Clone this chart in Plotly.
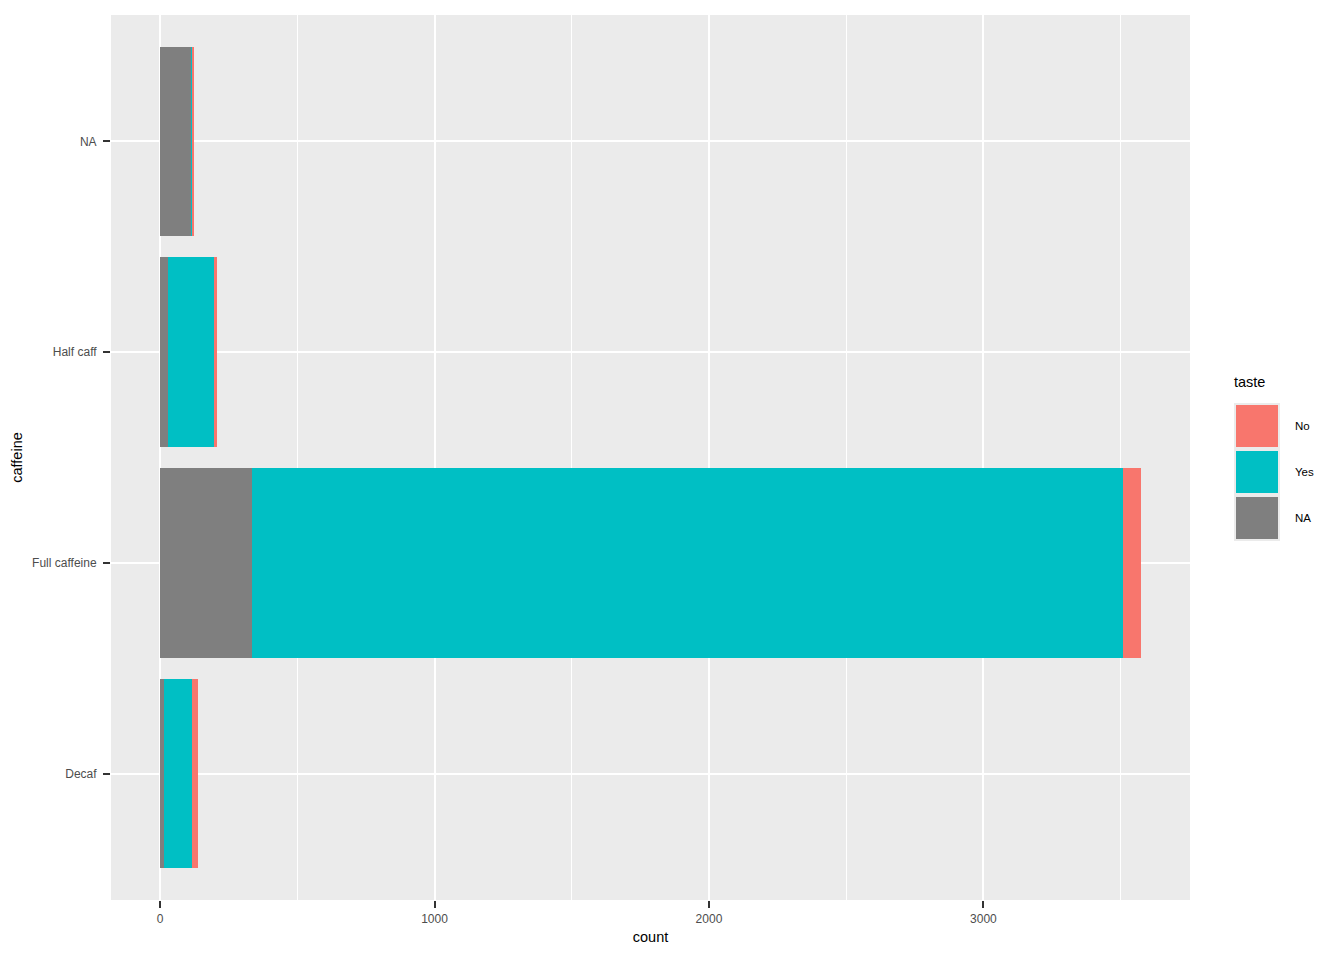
import plotly.graph_objects as go

# --------------------------------------------------
# Data: counts per caffeine level, split by taste
# --------------------------------------------------
caffeine = ["Decaf", "Full caffeine", "Half caff", "NA"]
taste_na = [15, 335, 28, 113]
taste_yes = [100, 3173, 172, 7]
taste_no = [24, 66, 7, 5]

legend_labels = ["No", "Yes", "NA"]
colors = {"No": "#F8766D", "Yes": "#00BFC4", "NA": "#7F7F7F"}

# page body has an 8px margin, so the figure is shifted by that
OFF = 8
W, H = 1344, 960
L, R, T, B = 111 - OFF, 1344 - 1190 + OFF, 15 - OFF, 960 - 900 + OFF

fig = go.Figure()

# stacked left -> right: NA, Yes, No (ggplot order)
for name, vals in [("NA", taste_na), ("Yes", taste_yes), ("No", taste_no)]:
    fig.add_trace(go.Bar(
        y=caffeine, x=vals, orientation="h", name=name,
        marker=dict(color=colors[name], line=dict(width=0)),
        width=0.9, showlegend=False,
    ))

total = max(a + b + c for a, b, c in zip(taste_na, taste_yes, taste_no))
pad = total * 0.05

tick_style = dict(ticks="outside", ticklen=7, tickwidth=2, tickcolor="#333333",
                  tickfont=dict(size=12, color="#4D4D4D"))

fig.update_layout(
    width=W, height=H,
    margin=dict(l=L, r=R, t=T, b=B),
    barmode="stack",
    bargap=0.1,
    plot_bgcolor="#EBEBEB",
    paper_bgcolor="white",
    font=dict(family="Liberation Sans, Arial", color="#4D4D4D"),
    xaxis=dict(
        range=[-pad, total + pad],
        tickvals=[0, 1000, 2000, 3000],
        showgrid=True, gridcolor="white", gridwidth=2.2,
        zeroline=False,
        minor=dict(tickvals=[500, 1500, 2500, 3500], showgrid=True,
                   gridcolor="white", gridwidth=1.1, ticks=""),
        title=dict(text="count", font=dict(size=14.5, color="black"), standoff=6),
        showline=False,
        ticklabelstandoff=1,
        **tick_style,
    ),
    yaxis=dict(
        type="category",
        categoryorder="array", categoryarray=caffeine,
        range=[-0.6, len(caffeine) - 0.4],
        showgrid=True, gridcolor="white", gridwidth=2.2,
        title=dict(text="caffeine", font=dict(size=14.5, color="black"), standoff=6),
        showline=False,
        ticklabelstandoff=4,
        **tick_style,
    ),
)

# --------------------------------------------------
# Hand-drawn ggplot-style legend (screen px -> paper)
# --------------------------------------------------
pw, ph = W - L - R, H - T - B


def px_x(x):
    return (x - OFF - L) / pw


def px_y(y):
    return (H - B - (y - OFF)) / ph


fig.add_annotation(x=px_x(1234), y=px_y(382), xref="paper", yref="paper",
                   text="taste", showarrow=False, xanchor="left", yanchor="middle",
                   xshift=-2, font=dict(size=14.5, color="black"))
fig.add_shape(type="rect", xref="paper", yref="paper",
              x0=px_x(1234), x1=px_x(1280), y0=px_y(403), y1=px_y(541),
              fillcolor="#EBEBEB", line=dict(width=0), layer="below")
for i, lab in enumerate(legend_labels):
    top = 405 + i * 46
    fig.add_shape(type="rect", xref="paper", yref="paper",
                  x0=px_x(1236), x1=px_x(1278), y0=px_y(top), y1=px_y(top + 42),
                  fillcolor=colors[lab], line=dict(width=0))
    fig.add_annotation(x=px_x(1295), y=px_y(top + 21), xref="paper", yref="paper",
                       text=lab, showarrow=False, xanchor="left", yanchor="middle",
                       xshift=-2, font=dict(size=11.5, color="black"))

fig.write_html("out.html")
